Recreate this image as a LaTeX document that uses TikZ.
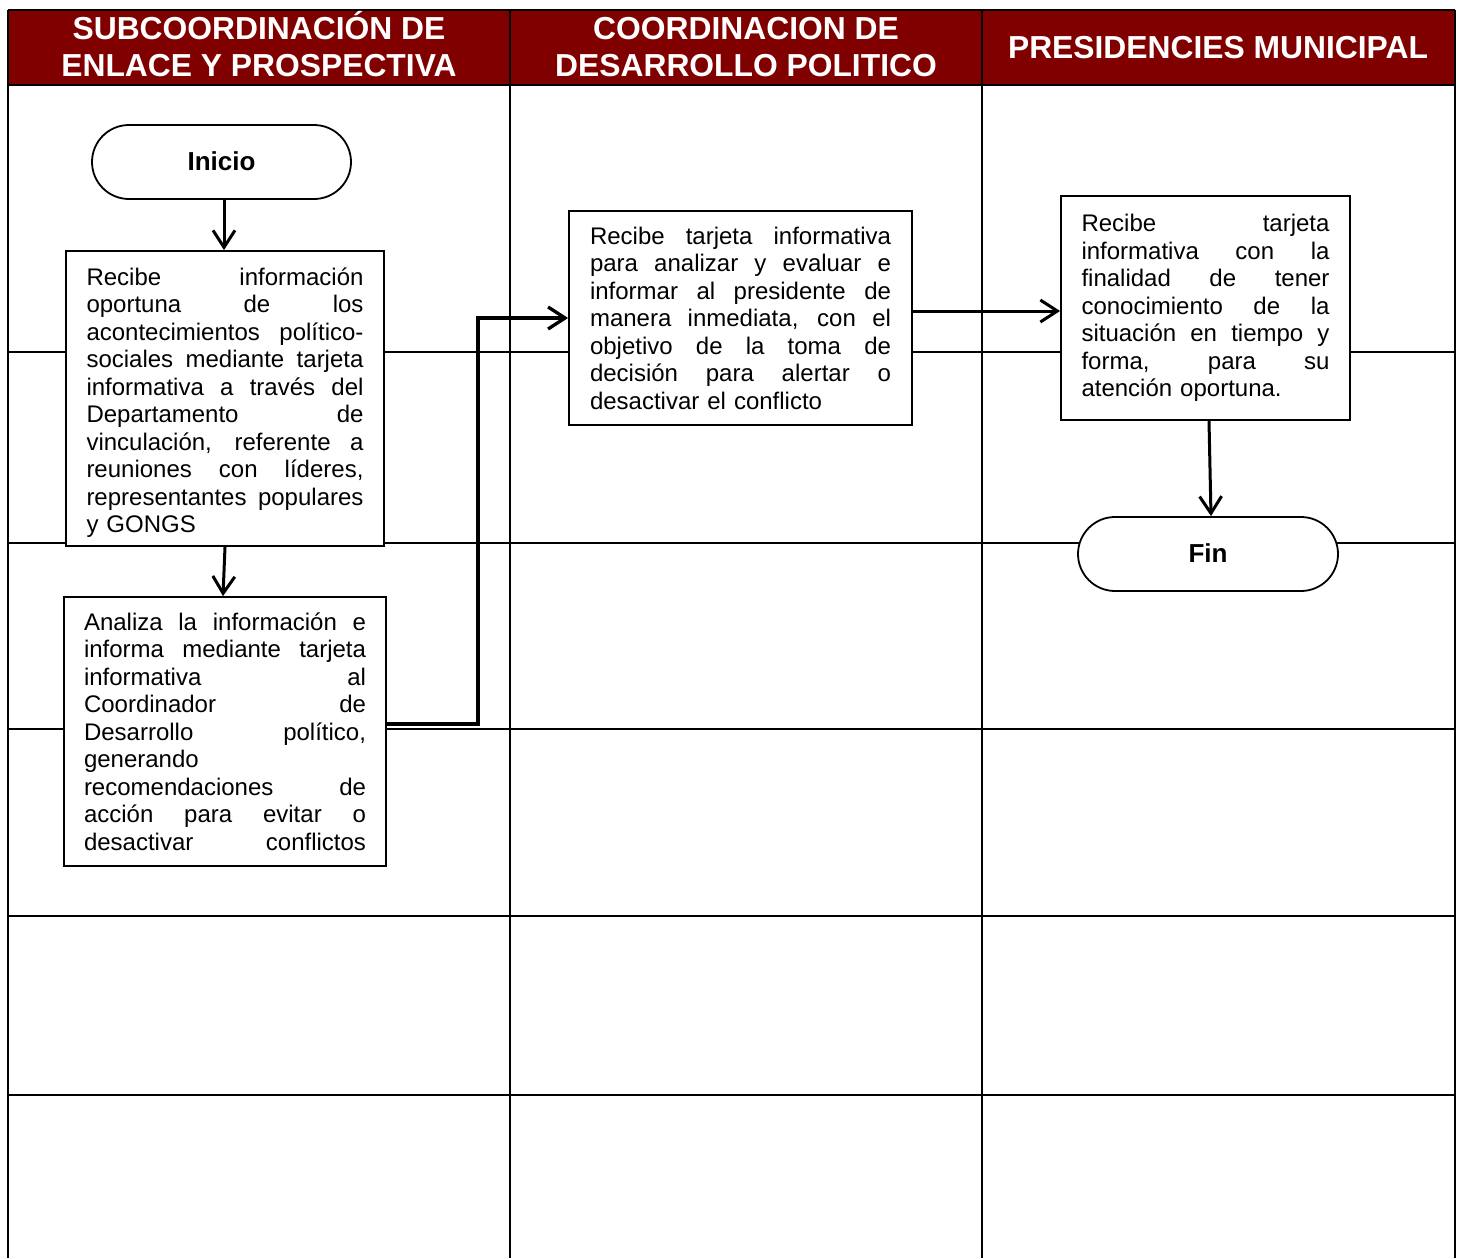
\documentclass[tikz,border=0pt]{standalone}
\usepackage{fontspec}
\setmainfont{Liberation Sans}
\usetikzlibrary{arrows.meta}
\definecolor{hdr}{RGB}{128,0,0}
\newcommand\jwidth{277pt}
\newcommand\jline[1]{\leavevmode\hbox to \jwidth{\spaceskip=\fontdimen2\font plus 1fil\relax #1}}
\begin{document}
\begin{tikzpicture}[x=1pt,y=-1pt,
 gridline/.style={line width=2pt},
 box/.style={draw, line width=1.8pt, fill=white, inner ysep=0pt, font=\fontsize{24}{27.5}\selectfont, align=left},
 boxtext/.style={inner sep=0pt, font=\fontsize{24}{27.5}\selectfont, align=left},
 term/.style={draw, line width=1.8pt, fill=white, rounded corners=37pt, minimum height=74pt, font=\bfseries\fontsize{26}{30}\selectfont},
 arr/.style={line width=3pt, -{Straight Barb[length=17pt,width=22pt]}},
 hdrtext/.style={text=white, font=\bfseries\fontsize{31.8}{37}\selectfont, align=center}]
\useasboundingbox (0,0) rectangle (1458,1258);
% header
\fill[hdr] (8,10) rectangle (1455,85);
\draw[gridline] (8,10) -- (1455,10);
\draw[gridline] (8,85) -- (1455,85);
% verticals
\foreach \x in {8,510,982,1455} \draw[gridline] (\x,10) -- (\x,1258);
% rows
\foreach \y in {352,543,729,916,1095} \draw[gridline] (8,\y) -- (1455,\y);
\node[hdrtext] (h1) at (259,44.5) {SUBCOORDINACIÓN DE\\ENLACE Y PROSPECTIVA};
\node[hdrtext] (h2) at (746,47.5) {COORDINACION DE\\DESARROLLO POLITICO};
\node[hdrtext] (h3) at (1218,47.5) {PRESIDENCIES MUNICIPAL};
% shapes
\node[term, minimum width=259pt] (inicio) at (221.5,162) {\raisebox{2pt}{Inicio}};
\node[box, minimum width=318pt, minimum height=295pt] (box1) at (225,398.5) {};
\node[boxtext, text width=277pt] (box1text) at (225,402.5) {\renewcommand\jwidth{277pt}%
\jline{Recibe información}\\
\jline{oportuna de los}\\
\jline{acontecimientos político-}\\
\jline{sociales mediante tarjeta}\\
\jline{informativa a través del}\\
\jline{Departamento de}\\
\jline{vinculación, referente a}\\
\jline{reuniones con líderes,}\\
\jline{representantes populares}\\
y GONGS};
\node[box, text width=282pt, inner xsep=20pt, minimum height=269pt] (box2) at (225,731.5) {\renewcommand\jwidth{282pt}%
\jline{Analiza la información e}\\
\jline{informa mediante tarjeta}\\
\jline{informativa al}\\
\jline{Coordinador de}\\
\jline{Desarrollo político,}\\
generando\\
\jline{recomendaciones de}\\
\jline{acción para evitar o}\\
\jline{desactivar conflictos}};
\node[box, text width=301pt, inner xsep=21pt, minimum height=214pt] (box3) at (740.5,318) {\renewcommand\jwidth{301pt}%
\jline{Recibe tarjeta informativa}\\
\jline{para analizar y evaluar e}\\
\jline{informar al presidente de}\\
\jline{manera inmediata, con el}\\
\jline{objetivo de la toma de}\\
\jline{decisión para alertar o}\\
desactivar el conflicto};
\node[box, text width=248pt, inner xsep=20.5pt, minimum height=224pt] (box4) at (1205.5,308) {\renewcommand\jwidth{248pt}%
\jline{Recibe tarjeta}\\
\jline{informativa con la}\\
\jline{finalidad de tener}\\
\jline{conocimiento de la}\\
\jline{situación en tiempo y}\\
\jline{forma, para su}\\
atención oportuna.};
\node[term, minimum width=260pt] (fin) at (1208,554) {\raisebox{2pt}{Fin}};
% connectors
\coordinate (bend) at (478,318);
\draw[arr] (inicio.south -| 224,0) -- (box1.north -| 224,0);
\draw[arr] (box1.south -| 225,0) -- (box2.north -| 223,0);
\draw[arr, line width=3.3pt] (box2.east |- 0,724) -| (bend) -- (box3.west |- bend);
\draw[arr] (box3.east |- 0,311) -- (box4.west |- 0,311);
\draw[arr] (box4.south -| 1209,0) -- (fin.north -| 1211,0);
\end{tikzpicture}
\end{document}
